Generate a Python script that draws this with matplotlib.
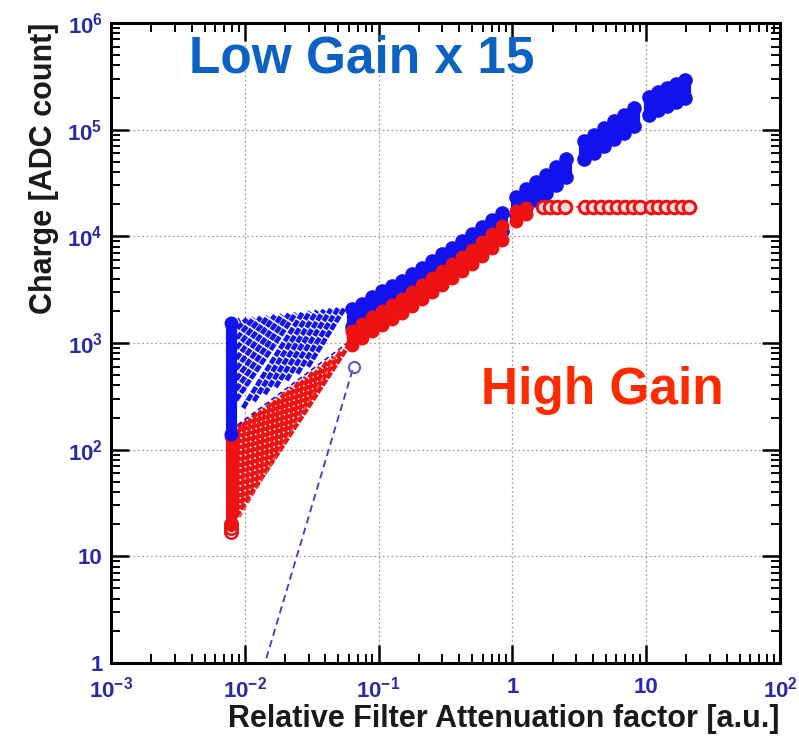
"""Charge vs relative filter attenuation, low gain (x15) and high gain channels."""
import matplotlib

matplotlib.use("Agg")
import matplotlib.pyplot as plt
from matplotlib.ticker import LogLocator, NullFormatter

BLUE = "#1212ee"
RED = "#ee1212"
TICKCOL = "#2a2aa8"
LG_TEXT = "#0b62c4"
HG_TEXT = "#ff2a00"

# ---- data ----
# first filter position: spread of all channels
COLUMN_X = [0.0079]
LG_COLUMN_LO = [140]
LG_COLUMN_HI = [1550]
HG_COLUMN_LO = [20]
HG_COLUMN_HI = [135]
HG_COLUMN_LOWEST = [17, 18.5, 20]

# low-range sweeps (start -> end of each channel segment)
LG_SEG_X0 = [0.0079, 0.0079, 0.0079, 0.0079, 0.0079, 0.0079, 0.0079, 0.0079,
             0.0079, 0.0097, 0.0117, 0.0141, 0.0170, 0.0205, 0.0247, 0.0297]
LG_SEG_Y0 = [1493, 1194, 955, 764, 610, 488, 389, 311, 249, 246, 285, 332,
             385, 447, 516, 600]
LG_SEG_X1 = [0.0092, 0.0104, 0.0117, 0.0132, 0.0149, 0.0168, 0.0190, 0.0214,
             0.0241, 0.0272, 0.0307, 0.0347, 0.0391, 0.0441, 0.0498, 0.0561]
LG_SEG_Y1 = [1656, 1686, 1718, 1750, 1778, 1811, 1841, 1875, 1906, 1941,
             1972, 2009, 2042, 2080, 2113, 2153]

HG_SEG_X0 = [0.0079] * 16
HG_SEG_Y0 = [143, 125, 110, 96.6, 84.7, 74.5, 65.2, 57.2, 50.1, 44.0, 38.6,
             33.9, 29.7, 26.1, 22.9, 20.1]
HG_SEG_X1 = [0.0097, 0.0109, 0.0123, 0.0139, 0.0157, 0.0177, 0.0200, 0.0225,
             0.0254, 0.0286, 0.0323, 0.0365, 0.0411, 0.0464, 0.0523, 0.0590]
HG_SEG_Y1 = [176, 196, 220, 245, 274, 306, 342, 382, 427, 477, 532, 594, 665,
             743, 828, 927]

# single outlier channels
LG_OUT_X = [0.0079, 0.065]
LG_OUT_Y = [0.087, 600]
LG_EDGE_X = [0.0079, 0.063]
LG_EDGE_Y = [153, 1070]
HG_OUT_X = [0.0079, 0.0532]
HG_OUT_Y = [17, 940]

# main band: filter values with min / max over channels
FILTER_X = [0.0633, 0.0751, 0.0893, 0.106, 0.126, 0.150, 0.178, 0.211, 0.251,
            0.298, 0.354, 0.420, 0.499, 0.593, 0.704, 0.836,
            1.064, 1.264, 1.501, 1.783, 2.118, 2.515,
            3.428, 4.073, 4.838, 5.745, 6.826, 8.107,
            10.5, 12.3, 14.3, 16.7, 19.5]
LG_LO = [1416, 1577, 1834, 2088, 2326, 2592, 3013, 3430, 3989, 4638, 5281,
         6143, 7142, 8311, 9662, 11240,
         15870, 18850, 21950, 25520, 30330, 36040,
         53150, 60500, 70360, 81840, 93160, 108300,
         137400, 153000, 166800, 181900, 198300]
LG_HI = [2087, 2325, 2704, 3077, 3428, 3820, 4441, 5055, 5879, 6836, 7783,
         9054, 10530, 12250, 14240, 16570,
         23390, 27790, 32350, 37610, 44700, 53110,
         78340, 89170, 103700, 120600, 137300, 159600,
         202500, 225600, 245800, 268100, 292200]

HG_BAND_X = [0.0633, 0.0751, 0.0893, 0.106, 0.126, 0.150, 0.178, 0.211, 0.251,
             0.298, 0.354, 0.420, 0.499, 0.593, 0.704, 0.836, 1.064, 1.264]
HG_LO = [960, 1116, 1298, 1478, 1682, 1915, 2227, 2590, 3013, 3504, 4076,
         4739, 5512, 6551, 7786, 9252, 14000, 16300]
HG_HI = [1298, 1510, 1756, 1999, 2275, 2590, 3012, 3503, 4075, 4739, 5513,
         6410, 7456, 8861, 10530, 12510, 17200, 18400]

# high gain saturation plateau
HG_SAT_X = [1.693, 1.910, 2.154, 2.473, 3.487, 4.003, 4.594, 5.272, 6.050,
            6.944, 7.965, 8.989, 10.86, 12.25, 14.06, 16.14, 18.52, 20.89]
HG_SAT_Y = [18700, 18900, 18900, 18900, 18900, 18900, 18900, 18900, 18900,
            18900, 18900, 18900, 18900, 18900, 18900, 18900, 18900, 18900]

XTICKS = [1e-3, 1e-2, 1e-1, 1, 10, 100]
XTICK_LABELS = ["$10^{-3}$", "$10^{-2}$", "$10^{-1}$", "1", "10", "$10^{2}$"]
YTICKS = [1, 10, 1e2, 1e3, 1e4, 1e5, 1e6]
YTICK_LABELS = ["1", "10", "$10^{2}$", "$10^{3}$", "$10^{4}$", "$10^{5}$",
                "$10^{6}$"]

plt.rcParams["font.family"] = ["Liberation Sans", "DejaVu Sans"]
plt.rcParams["mathtext.default"] = "regular"

fig = plt.figure(figsize=(7.99, 7.36), dpi=100)
ax = fig.add_axes([0.1389, 0.0992, 0.8373, 0.8696])
ax.set_xscale("log")
ax.set_yscale("log")
ax.set_xlim(1e-3, 1e2)
ax.set_ylim(1, 1e6)

# ---- low-range segments ----
seg_style = dict(lw=3.4, ls=(0, (1.5, 0.35)), zorder=2)
for x0, y0, x1, y1 in zip(HG_SEG_X0, HG_SEG_Y0, HG_SEG_X1, HG_SEG_Y1):
    ax.plot([x0, x1], [y0, y1], color=RED, **seg_style)
for x0, y0, x1, y1 in zip(LG_SEG_X0, LG_SEG_Y0, LG_SEG_X1, LG_SEG_Y1):
    ax.plot([x0, x1], [y0, y1], color=BLUE, **seg_style)

ax.plot(LG_OUT_X, LG_OUT_Y, color="#3a3ad0", lw=1.3, ls=(0, (4, 2.5)), zorder=2)
ax.plot(LG_OUT_X[1:], LG_OUT_Y[1:], "o", ms=8, mfc="none", mec="#5a5ad8",
        mew=1.5, zorder=3)
ax.plot(LG_EDGE_X, LG_EDGE_Y, color=BLUE, lw=1.2, ls=(0, (3, 2)), zorder=2)
ax.plot(HG_OUT_X, HG_OUT_Y, color="#e05050", lw=1.2, ls=(0, (3, 2)), zorder=2)

# ---- first filter column ----
ax.vlines(COLUMN_X, HG_COLUMN_LO, HG_COLUMN_HI, color=RED, lw=8, zorder=3)
ax.plot(COLUMN_X * 2, HG_COLUMN_LO + HG_COLUMN_HI, "o", ms=9, color=RED, zorder=3)
ax.plot(COLUMN_X * 3, HG_COLUMN_LOWEST, "o", ms=9, mfc="none", mec=RED,
        mew=1.8, zorder=3)
ax.vlines(COLUMN_X, LG_COLUMN_LO, LG_COLUMN_HI, color=BLUE, lw=8, zorder=4)
ax.plot(COLUMN_X * 2, LG_COLUMN_LO + LG_COLUMN_HI, "o", ms=9, color=BLUE, zorder=4)

# ---- main band ----
ax.vlines(FILTER_X, LG_LO, LG_HI, color=BLUE, lw=8, zorder=4)
ax.plot(FILTER_X, LG_LO, "o", ms=9.5, color=BLUE, zorder=4)
ax.plot(FILTER_X, LG_HI, "o", ms=9.5, color=BLUE, zorder=4)

ax.vlines(HG_BAND_X, HG_LO, HG_HI, color=RED, lw=7.5, zorder=5)
ax.plot(HG_BAND_X, HG_LO, "o", ms=9, color=RED, zorder=5)
ax.plot(HG_BAND_X, HG_HI, "o", ms=9, color=RED, zorder=5)

ax.plot(HG_SAT_X, HG_SAT_Y, color=RED, lw=1.2, ls=(0, (3, 2)), zorder=5)
ax.plot(HG_SAT_X, HG_SAT_Y, "o", ms=9, mfc="#ffdcdc", mec=RED, mew=2.2,
        zorder=6)

# ---- axes styling ----
ax.set_xticks(XTICKS)
ax.set_xticklabels(XTICK_LABELS)
ax.set_yticks(YTICKS)
ax.set_yticklabels(YTICK_LABELS)
ax.xaxis.set_minor_locator(LogLocator(base=10, subs=range(2, 10), numticks=20))
ax.yaxis.set_minor_locator(LogLocator(base=10, subs=range(2, 10), numticks=20))
ax.xaxis.set_minor_formatter(NullFormatter())
ax.yaxis.set_minor_formatter(NullFormatter())
ax.tick_params(which="major", direction="in", length=13, width=1.8,
               top=True, right=True, labelsize=16, labelcolor=TICKCOL)
ax.tick_params(axis="x", which="major", pad=10)
ax.tick_params(axis="y", which="major", pad=6)
ax.tick_params(which="minor", direction="in", length=6.5, width=1.4,
               top=True, right=True)
for lab in ax.get_xticklabels() + ax.get_yticklabels():
    lab.set_fontweight("bold")
for sp in ax.spines.values():
    sp.set_linewidth(2.2)

ax.grid(which="major", color="#a0a0a0", lw=0.9, ls=(0, (1.5, 2.0)))
ax.set_axisbelow(True)

ax.set_xlabel("Relative Filter Attenuation factor [a.u.]", loc="right",
              fontsize=22, fontweight="bold", color="#1a1a1a", labelpad=1)
ax.set_ylabel("Charge [ADC count]", loc="top", fontsize=22,
              fontweight="bold", color="#1a1a1a", labelpad=6)

ax.text(0.374, 0.944, "Low Gain x 15", transform=ax.transAxes, ha="center",
        va="center", fontsize=37, fontweight="bold", color=LG_TEXT, zorder=7)
ax.text(0.734, 0.425, "High Gain", transform=ax.transAxes, ha="center",
        va="center", fontsize=37, fontweight="bold", color=HG_TEXT, zorder=7)

fig.savefig("out.png", dpi=100, facecolor="white")
